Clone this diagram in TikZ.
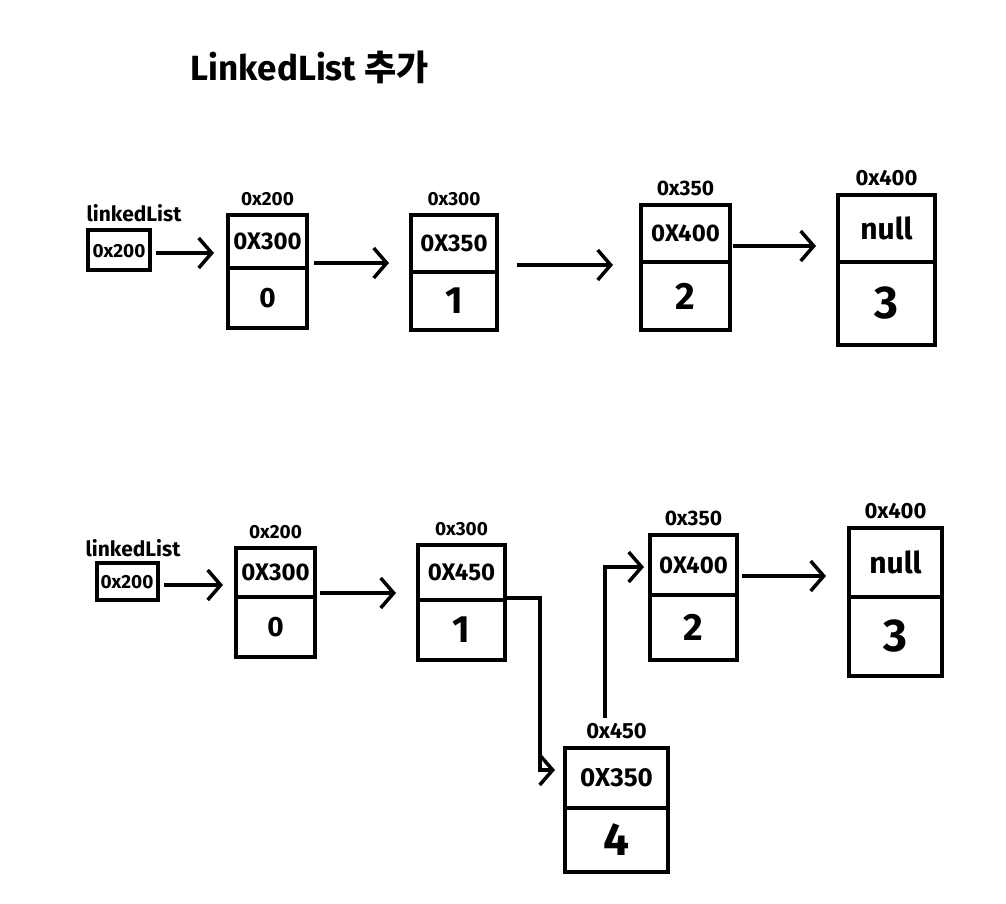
\documentclass[tikz,border=0pt]{standalone}
\usepackage{fontspec}
\setmainfont{Fira Sans}
\newfontfamily\krfont{Noto Sans CJK KR}
\usetikzlibrary{arrows.meta,fit}
\tikzset{
  every node/.style={font=\bfseries},
  cellbox/.style={draw, line width=4pt, inner sep=0pt},
  headbox/.style={draw, line width=3.5pt, inner sep=0pt},
  divline/.style={line width=3.5pt},
  celltop/.style={font=\bfseries\fontsize{24}{24}\selectfont, inner sep=0pt},
  cellval/.style={font=\bfseries\fontsize{38}{38}\selectfont, inner sep=0pt},
  addr/.style={font=\bfseries\fontsize{19}{19}\selectfont, inner sep=1pt, anchor=south},
  headlbl/.style={font=\bfseries\fontsize{21}{21}\selectfont, inner sep=0pt},
  headtxt/.style={font=\bfseries\fontsize{19}{19}\selectfont, inner sep=0pt},
  arr/.style={line width=3.5pt, -{Straight Barb[length=13pt,width=30pt]}},
}
\newcommand{\cellnode}[9]{%
  \node[cellbox, fit={(#2,#3) (#4,#5)}] (#1) {};
  \draw[divline] (#1.west |- 0,#6) -- (#1.east |- 0,#6);
  \node[celltop] (#1t) at ({(#2+#4)/2},{(#3+#6)/2}) {#7};
  \node[cellval] (#1v) at ({(#2+#4)/2},{(#6+#5)/2}) {#8};
  \node[addr] (#1a) at ([yshift=6pt]#1.north) {#9};
}
\begin{document}
\begin{tikzpicture}[x=1pt,y=-1pt]
\useasboundingbox (0,0) rectangle (1006,903);
\fill[white] (0,0) rectangle (1006,903);

% title
\node[font=\bfseries\fontsize{35}{35}\selectfont, inner sep=0pt] (title) at (310,67) {LinkedList {\krfont\bfseries 추가}};

% ---------- top row ----------
\node[headbox, fit={(88,230) (150,270)}] (t0) {};
\node[headtxt] (t0t) at (119,251) {0x200};
\node[headlbl] (t0l) at (134,213) {linkedList};

\cellnode{t1}{228}{215}{307}{328}{268}{0X300}{{\fontsize{28}{28}\selectfont 0}}{0x200}
\cellnode{t2}{411}{215}{497}{330}{272}{0X350}{1}{0x300}
\cellnode{t3}{641}{205}{730}{330}{262}{0X400}{2}{{\fontsize{21}{21}\selectfont 0x350}}
\cellnode{t4}{838}{195}{935}{345}{262}{{\fontsize{30}{30}\selectfont null}}{{\fontsize{46}{46}\selectfont 3}}{{\fontsize{22}{22}\selectfont 0x400}}

\draw[arr, shorten <=4pt, shorten >=12pt] (t0.east |- 0,253) -- (t1.west |- 0,253);
\draw[arr, shorten <=5pt, shorten >=20pt] (t1.east |- 0,263) -- (t2.west |- 0,263);
\draw[arr, shorten <=18pt, shorten >=26pt] (t2.east |- 0,265) -- (t3.west |- 0,265);
\draw[arr, shorten <=1pt, shorten >=20pt] (t3.east |- 0,246) -- (t4.west |- 0,246);

% ---------- bottom row ----------
\node[headbox, fit={(97,563) (158,600)}] (b0) {};
\node[headtxt] (b0t) at (127,582) {0x200};
\node[headlbl] (b0l) at (133,548) {linkedList};

\cellnode{b1}{236}{548}{315}{657}{597}{0X300}{{\fontsize{28}{28}\selectfont 0}}{0x200}
\cellnode{b2}{418}{545}{505}{660}{600}{0X450}{1}{0x300}
\cellnode{b3}{650}{535}{737}{660}{595}{0X400}{2}{{\fontsize{21}{21}\selectfont 0x350}}
\cellnode{b4}{849}{528}{942}{676}{597}{{\fontsize{30}{30}\selectfont null}}{{\fontsize{46}{46}\selectfont 3}}{{\fontsize{22}{22}\selectfont 0x400}}
\cellnode{b5}{565}{748}{668}{872}{808}{{\fontsize{26}{26}\selectfont 0X350}}{{\fontsize{46}{46}\selectfont 4}}{{\fontsize{22}{22}\selectfont 0x450}}

\draw[arr, shorten <=4pt, shorten >=11pt] (b0.east |- 0,585) -- (b1.west |- 0,585);
\draw[arr, shorten <=3pt, shorten >=20pt] (b1.east |- 0,593) -- (b2.west |- 0,593);
\draw[arr, shorten <=3pt, shorten >=21pt] (b3.east |- 0,576) -- (b4.west |- 0,576);

\coordinate (bend1) at (540,770);
\draw[arr, shorten >=8pt] (b2.east |- 0,598) -| (bend1) -- (bend1 -| b5.west);
\coordinate (bend2) at (605,567);
\draw[arr, shorten >=4pt] ([yshift=4pt]b5a.north -| bend2) -- (bend2) -- (bend2 -| b3.west);
\end{tikzpicture}
\end{document}
